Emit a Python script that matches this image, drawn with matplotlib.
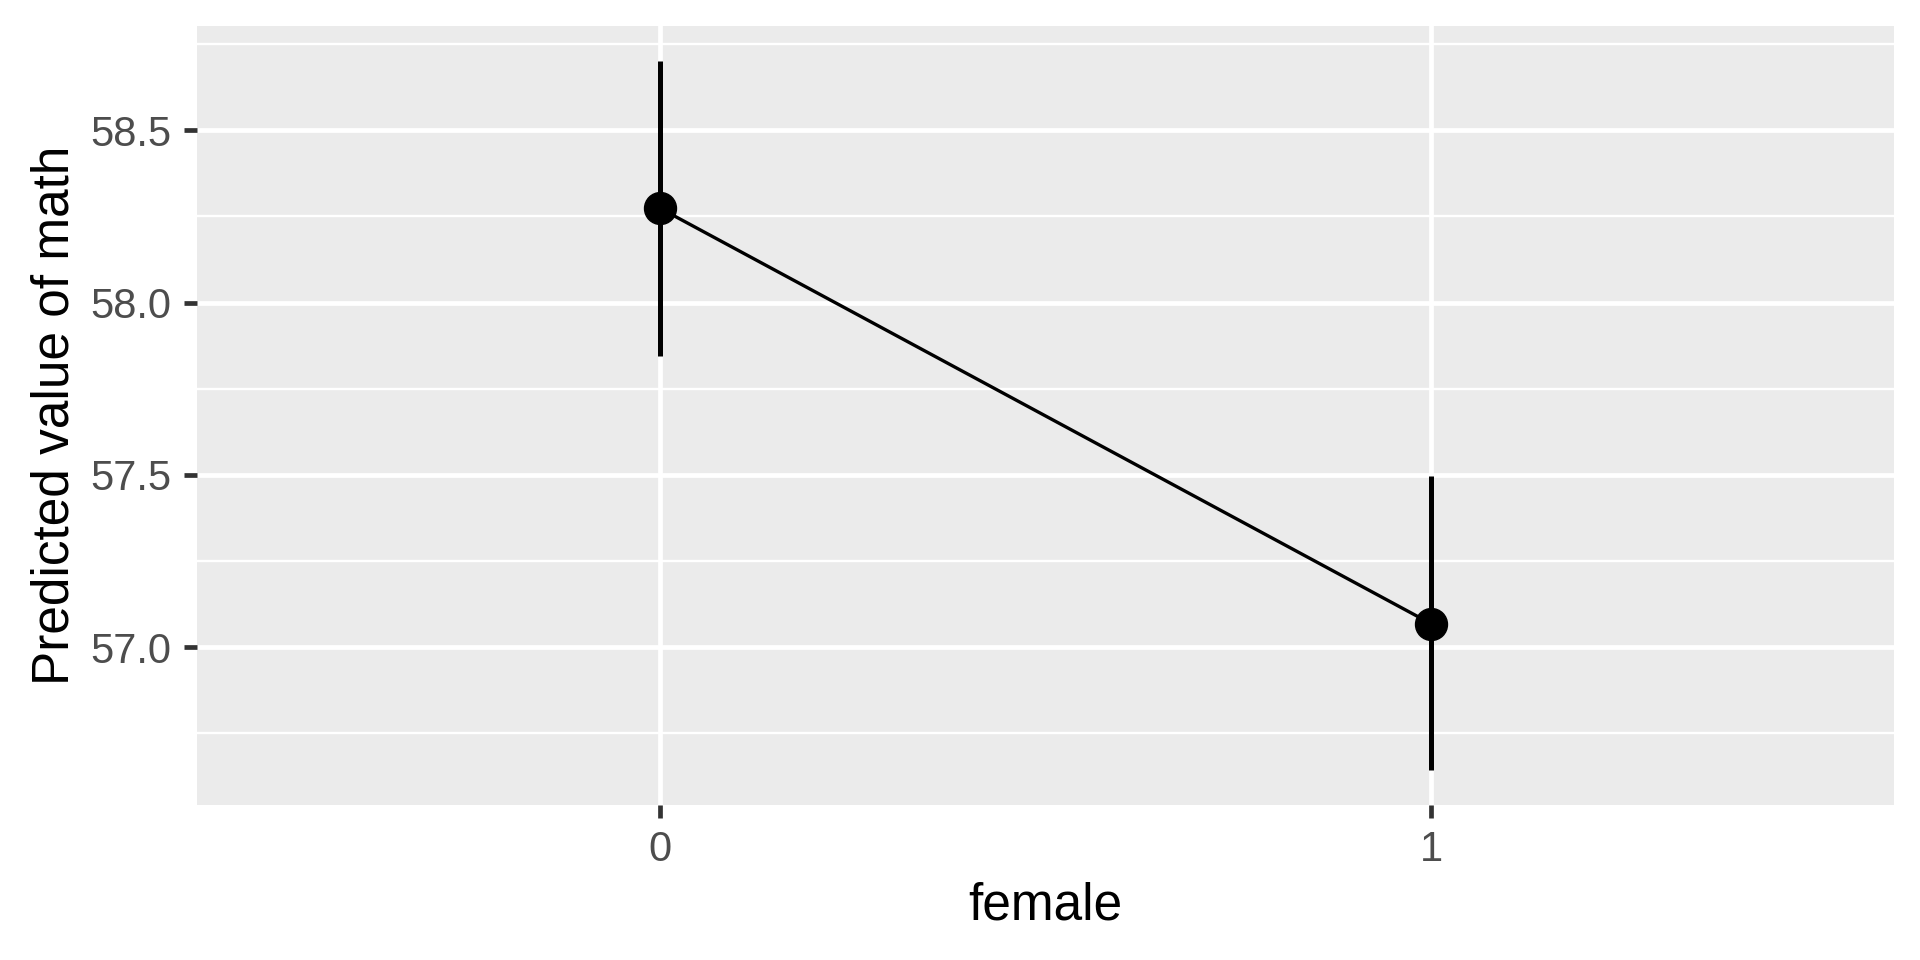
import matplotlib
matplotlib.use("Agg")
import matplotlib.pyplot as plt
import numpy as np

# data
female = ["0", "1"]
predicted = [58.274, 57.068]
ci_low = [57.845, 56.645]
ci_high = [58.700, 57.497]

plt.rcParams["font.family"] = ["Liberation Sans", "DejaVu Sans"]

fig = plt.figure(figsize=(19.2, 9.6), dpi=100)
ax = fig.add_axes([0.1026, 0.1615, 0.8839, 0.8115])

x = np.arange(len(female))
ax.set_facecolor("#EBEBEB")

ax.vlines(x, ci_low, ci_high, color="black", lw=3.6, zorder=3)
ax.plot(x, predicted, color="black", lw=2.4, zorder=3)
ax.plot(x, predicted, "o", color="black", ms=23, zorder=4)

# ggplot-like expansion (5% continuous, 0.6 discrete)
lo, hi = min(ci_low), max(ci_high)
pad = (hi - lo) * 0.05
ax.set_ylim(lo - pad, hi + pad)
ax.set_xlim(-0.6, len(female) - 1 + 0.6)

ax.set_xticks(x)
ax.set_xticklabels(female)
ax.set_yticks([57.0, 57.5, 58.0, 58.5])
ax.set_yticklabels(["57.0", "57.5", "58.0", "58.5"])
ax.set_yticks([56.75, 57.25, 57.75, 58.25, 58.75], minor=True)

ax.grid(which="major", color="white", lw=3.4)
ax.grid(which="minor", axis="y", color="white", lw=1.7)
ax.set_axisbelow(True)

for s in ax.spines.values():
    s.set_visible(False)

ax.tick_params(axis="both", which="major", length=9.7, width=3.4, color="#333333",
               labelsize=30, labelcolor="#4D4D4D", pad=8.5)
ax.tick_params(axis="y", which="minor", length=0)

ax.set_xlabel("female", fontsize=37, labelpad=8)
ax.set_ylabel("Predicted value of math", fontsize=37, labelpad=8)

fig.savefig("out.png", dpi=100)
